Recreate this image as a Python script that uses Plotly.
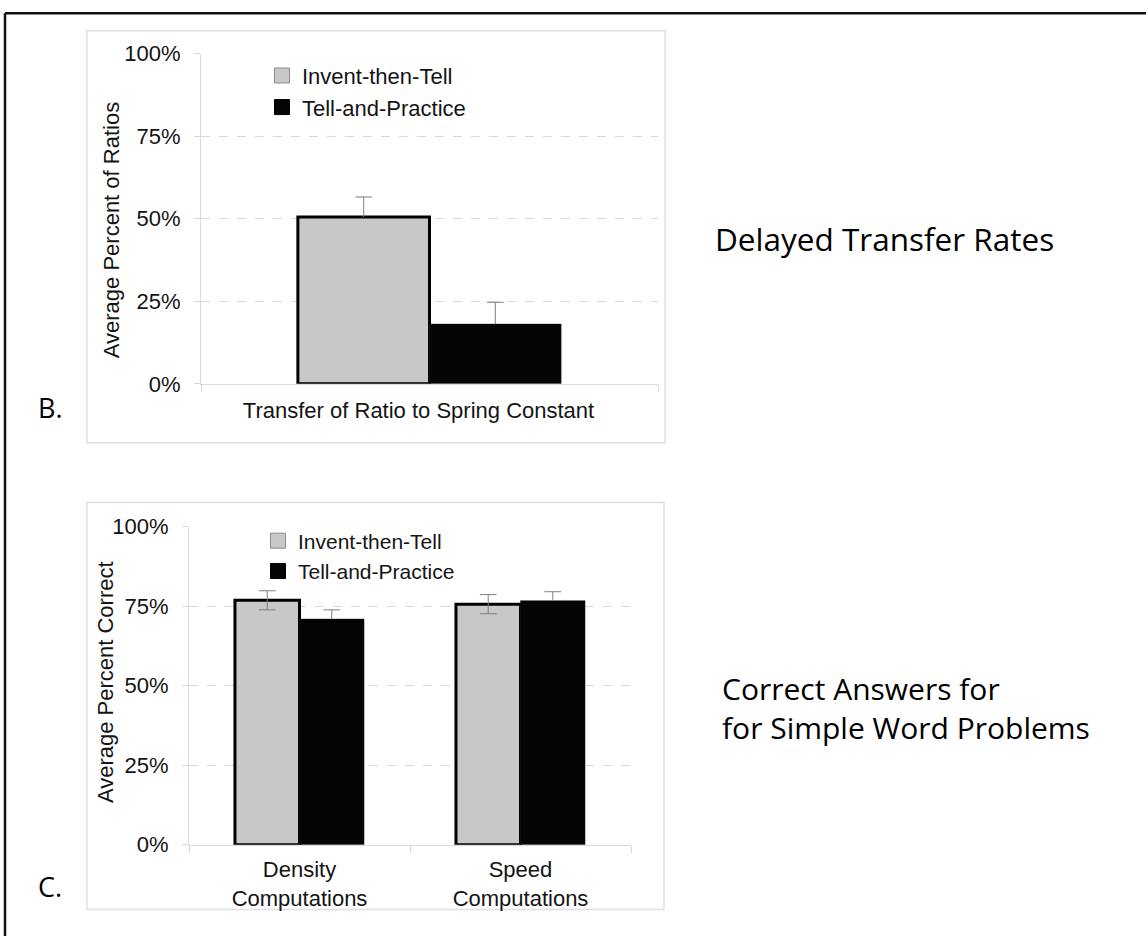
import plotly.graph_objects as go

# ---------------- data ----------------
groups = ["Invent-then-Tell", "Tell-and-Practice"]
group_fill = ["#c8c8c8", "#050505"]

# Panel B: delayed transfer
transfer_categories = ["Transfer of Ratio to Spring Constant"]
transfer_itt = [0.505]
transfer_tp = [0.181]
transfer_itt_err = [0.061]
transfer_tp_err = [0.066]

# Panel C: simple word problems
word_categories = ["Density<br>Computations", "Speed<br>Computations"]
word_itt = [0.768, 0.756]
word_tp = [0.709, 0.767]
word_itt_err = [0.030, 0.030]
word_tp_err = [0.029, 0.028]

pct_ticks = [0, 0.25, 0.5, 0.75, 1.0]
pct_labels = ["0%", "25%", "50%", "75%", "100%"]

# ---------------- styling ----------------
W, H = 1146, 936
AXIS_GRAY = "#d9d9d9"
ERR_GRAY = "#808080"
TEXT = "#141414"
CHART_FONT = "Liberation Sans, Arial, Helvetica, sans-serif"
LABEL_FONT = "Open Sans, Noto Sans, sans-serif"

# page-pixel -> paper helpers (vertical placement uses the drawn page band)
BAND_TOP, BAND_H = 11.2, 913.3


def fx(p):
    return p / W


def fy(p):
    return 1 - (p - BAND_TOP) / BAND_H


fig = go.Figure()


def add_panel(xa, ya, means, errs, symmetric, width, legend):
    n = len(means[0])
    idx = list(range(n))
    for k, name in enumerate(groups):
        off = -width if k == 0 else 0.0
        centers = [i + off + width / 2 for i in idx]
        outline = dict(color="#000000", width=3) if k == 0 else dict(color="#1a1a1a", width=0.5)
        fig.add_trace(go.Bar(
            x=idx, y=means[k], width=width, offset=off, name=name,
            marker=dict(color=group_fill[k], line=outline),
            xaxis=xa, yaxis=ya, showlegend=False, hoverinfo="skip",
        ))
        minus = errs[k] if symmetric[k] else [0] * n
        fig.add_trace(go.Scatter(
            x=centers, y=means[k], mode="markers",
            marker=dict(size=2, opacity=0),
            error_y=dict(type="data", symmetric=False, array=errs[k], arrayminus=minus,
                         width=0, thickness=1, color=ERR_GRAY),
            xaxis=xa, yaxis=ya, showlegend=False, hoverinfo="skip",
        ))
        cap_x = list(centers)
        cap_y = [m + e for m, e in zip(means[k], errs[k])]
        if symmetric[k]:
            cap_x += centers
            cap_y += [m - e for m, e in zip(means[k], errs[k])]
        fig.add_trace(go.Scatter(
            x=cap_x, y=cap_y, mode="markers",
            marker=dict(symbol="line-ew", size=12, line=dict(width=1, color=ERR_GRAY)),
            xaxis=xa, yaxis=ya, showlegend=False, hoverinfo="skip",
        ))
    # legend swatches
    for k, name in enumerate(groups):
        fig.add_trace(go.Scatter(
            x=[None], y=[None], mode="markers", name=name, legend=legend,
            legendgroup=f"{legend}-{k}",
            marker=dict(symbol="square", size=15, color=group_fill[k],
                        line=dict(width=1, color="#8c8c8c" if k == 0 else "#000000")),
            xaxis=xa, yaxis=ya,
        ))


add_panel("x", "y", [transfer_itt, transfer_tp], [transfer_itt_err, transfer_tp_err],
          [False, False], 0.288, "legend")
add_panel("x2", "y2", [word_itt, word_tp], [word_itt_err, word_tp_err],
          [True, False], 0.292, "legend2")


def yaxis_style(domain, anchor):
    return dict(
        domain=domain, anchor=anchor, range=[0, 1],
        tickmode="array", tickvals=pct_ticks, ticktext=pct_labels,
        tickfont=dict(family=CHART_FONT, size=22, color=TEXT),
        ticks="outside", ticklen=6, tickcolor=AXIS_GRAY, ticklabelstandoff=9,
        showline=True, linecolor=AXIS_GRAY, linewidth=1,
        showgrid=True, gridcolor=AXIS_GRAY, griddash="dash", gridwidth=1,
        zeroline=False, fixedrange=True,
    )


def xaxis_style(domain, anchor, cats, standoff, shift):
    n = len(cats)
    return dict(
        domain=domain, anchor=anchor, range=[-0.5, n - 0.5],
        tickmode="array", tickvals=list(range(n)), ticktext=cats,
        tickfont=dict(family=CHART_FONT, size=22, color=TEXT),
        ticks="", ticklabelstandoff=standoff, ticklabelshift=shift,
        minor=dict(tickmode="linear", tick0=-0.5, dtick=1, ticks="outside",
                   ticklen=7, tickcolor=AXIS_GRAY, showgrid=False),
        showline=True, linecolor=AXIS_GRAY, linewidth=1,
        showgrid=False, zeroline=False, fixedrange=True,
    )


legend_common = dict(
    xanchor="left", yanchor="top", bgcolor="rgba(0,0,0,0)", borderwidth=0,
    itemclick=False, itemdoubleclick=False, traceorder="normal",
)

shapes = [
    # panel frames
    dict(type="rect", xref="paper", yref="paper", x0=fx(87), x1=fx(665), y0=fy(443), y1=fy(30),
         line=dict(color="#e0e0e0", width=1.5), layer="below"),
    dict(type="rect", xref="paper", yref="paper", x0=fx(87), x1=fx(664), y0=fy(911), y1=fy(503),
         line=dict(color="#e0e0e0", width=1.5), layer="below"),
    # page border (top and left)
    dict(type="line", xref="paper", yref="paper", x0=fx(5), x1=1, y0=fy(12.4), y1=fy(12.4),
         line=dict(color="#111111", width=2.5)),
    dict(type="line", xref="paper", yref="paper", x0=fx(5), x1=fx(5), y0=fy(12.4), y1=-0.05,
         line=dict(color="#111111", width=2.5)),
]

annotations = [
    # axis titles
    dict(text="Average Percent of Ratios", x=fx(111), y=fy(230), xanchor="center",
         yanchor="middle", textangle=-90, size=22, family=CHART_FONT, color=TEXT),
    dict(text="Average Percent Correct", x=fx(105), y=fy(683), xanchor="center",
         yanchor="middle", textangle=-90, size=22, family=CHART_FONT, color=TEXT),
    # panel letters and captions
    dict(text="B.", x=fx(36), y=fy(408), xanchor="left", yanchor="middle", size=27),
    dict(text="C.", x=fx(36), y=fy(888), xanchor="left", yanchor="middle", size=27),
    dict(text="Delayed Transfer Rates", x=fx(713), y=fy(238), xanchor="left",
         yanchor="middle", size=31.5),
    dict(text="Correct Answers for<br>for Simple Word Problems", x=fx(720), y=fy(708.5),
         xanchor="left", yanchor="middle", align="left", size=30),
]
for a in annotations:
    size = a.pop("size")
    family = a.pop("family", LABEL_FONT)
    color = a.pop("color", "#000000")
    a.update(xref="paper", yref="paper", showarrow=False,
             font=dict(family=family, size=size, color=color))

fig.update_layout(
    width=W, height=H, margin=dict(l=0, r=0, t=0, b=0),
    paper_bgcolor="white", plot_bgcolor="white",
    barmode="overlay", showlegend=True,
    xaxis=xaxis_style([fx(201), fx(658)], "y", transfer_categories, 7, -11),
    yaxis=yaxis_style([fy(384), fy(53)], "x"),
    xaxis2=xaxis_style([fx(189), fx(631)], "y2", word_categories, 5, 0),
    yaxis2=yaxis_style([fy(846), fy(527)], "x2"),
    legend=dict(x=fx(262), y=fy(54), tracegroupgap=2,
                font=dict(family=CHART_FONT, size=22, color=TEXT), **legend_common),
    legend2=dict(x=fx(258), y=fy(521), tracegroupgap=0,
                 font=dict(family=CHART_FONT, size=21, color=TEXT), **legend_common),
    shapes=shapes, annotations=annotations,
    hovermode=False,
)

fig.write_html("out.html")
